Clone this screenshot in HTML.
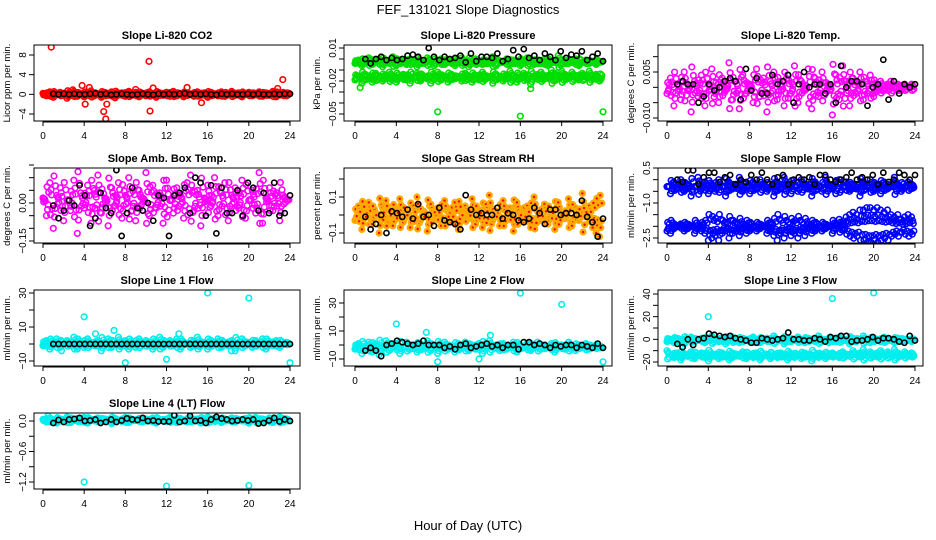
<!DOCTYPE html>
<html><head><meta charset="utf-8"><style>
body{margin:0;background:#fff}
svg{display:block;font-family:"Liberation Sans",sans-serif}
.pt{font-size:11px;font-weight:bold;text-anchor:middle}
.tk{font-size:10px}
.yl{font-size:9.5px;text-anchor:middle}
</style></head><body>
<svg id="chart" width="936" height="540" viewBox="0 0 936 540" xmlns="http://www.w3.org/2000/svg">
<rect width="936" height="540" fill="#fff"/>
<text x="468" y="14" font-size="13" text-anchor="middle">FEF_131021  Slope Diagnostics</text>
<text x="468" y="530" font-size="13" text-anchor="middle">Hour of Day (UTC)</text>
</svg>
<script>
const xTicks=[0,4,8,12,16,20,24];
const co2Cloud=[0.2,-0.3,0.5,-0.6,0.1,0.4,-0.2,-0.8,0.3,0.6,-0.4,0.2,-0.5,0.3,0.7,-0.3,0.1,-0.6,0.4,-0.2,0.5,-0.7,0.2,0.3,-0.4,0.6,-0.1,0.4,-0.5,0.2,-0.3,0.5,0.1,-0.6,0.3,-0.2,0.4,-0.4,0.6,-0.3,0.2,-0.5,0.3,0.1,-0.4,0.5,-0.2,0.3,-0.6,0.4,0.1,-0.3,0.5,-0.4,0.2,0.6,-0.2,0.3,-0.5,0.1,0.4,-0.3,0.2,0.5,-0.4,0.3,-0.2,0.6,-0.5,0.2,0.4,-0.3];
const co2Black=[0.1,0,0.1,0,0.1,0,0,0.1,0.2,0,0.1,-0.1,0,0.1,0,-0.1,0,0.1,0,-0.1,0.1,0,0.1,0,0.1,0.2,0,0.1,0,0.1,0,-0.1,0.1,0,0.1,0,0,0.1,0,0.1,0,0,0.1,0,0.1,0.1];
const co2OutX=[0.8,10.3,23.3,5.9,6.1,10.4,3.8,4.5,4.1,10.7,14,15.4,22.8,6.2,2.9,9];
const co2OutY=[9.6,6.7,3,-3.5,-5,-3.4,1.8,1.4,-2,1.3,1.4,-1.7,1.2,-2,0.9,1];
const presCloudA=[-0.004,-0.001,-0.006,-0.002,0.001,-0.005,-0.003,0,-0.007,-0.002,-0.004,0.002,-0.006,-0.001,-0.003,-0.005,0,-0.002,-0.007,-0.001,-0.004,0.001,-0.003,-0.006,-0.002,0,-0.005,-0.003,-0.001,-0.006,-0.002,0.001,-0.004,-0.007,-0.002,0,-0.003,-0.005,-0.001,-0.004,0.002,-0.006,-0.002,-0.003,0,-0.005,-0.001,-0.004,-0.006,-0.002,0.001,-0.003,-0.005,-0.001,-0.004,0,-0.006,-0.002,-0.003,0.003,-0.005,-0.001,-0.004,-0.002,0,-0.006,-0.003,-0.001,-0.004,-0.002,-0.005,-0.003];
const presCloudB=[-0.019,-0.016,-0.022,-0.014,-0.018,-0.021,-0.013,-0.017,-0.02,-0.015,-0.012,-0.018,-0.021,-0.016,-0.014,-0.019,-0.022,-0.017,-0.013,-0.02,-0.016,-0.018,-0.022,-0.015,-0.012,-0.019,-0.017,-0.021,-0.014,-0.018,-0.016,-0.02,-0.013,-0.017,-0.021,-0.015,-0.019,-0.012,-0.018,-0.016,-0.022,-0.014,-0.017,-0.02,-0.015,-0.011,-0.018,-0.021,-0.016,-0.013,-0.019,-0.023,-0.017,-0.014,-0.012,-0.018,-0.015,-0.01,-0.013,-0.016,-0.011,-0.014,-0.017,-0.012,-0.015,-0.019,-0.013,-0.016,-0.011,-0.018,-0.014,-0.02];
const presBlack=[0,-0.004,0,0.002,-0.001,0.001,-0.001,0,0.003,0.004,0.002,-0.001,0.01,0.002,-0.001,0.002,0,0.001,0.003,-0.003,0.005,-0.002,0.002,0.002,0.001,0.005,-0.002,0,0.008,0.002,0.009,0.001,0.003,-0.001,0.005,0.002,-0.001,0.007,0.001,0.004,0.003,0.007,-0.001,0.002,0.005,-0.002];
const presOutX=[8,16,24,0.5,17];const presOutY=[-0.048,-0.052,-0.048,-0.026,-0.027];
const tempCloud=[-0.002,0.003,-0.006,0.001,-0.004,0.005,-0.001,-0.008,0.002,-0.003,0.004,-0.006,0.001,0.006,-0.002,-0.005,0.003,-0.001,0.008,-0.004,0.002,-0.007,0.004,-0.002,0.001,-0.005,0.006,-0.003,0.003,-0.008,0.002,0.005,-0.004,0.001,-0.006,0.004,-0.002,0.007,-0.005,0.002,-0.001,0.006,-0.007,0.003,-0.003,0.005,-0.002,0.001,-0.009,0.004,-0.004,0.007,0.002,-0.006,0.003,-0.002,0.005,-0.004,0.002,0.004,-0.003,0.001,0.002,-0.001,0.001,0.002,0,0.001,-0.001,0.001,0,0.001];
const tempBlack=[0.001,0.002,0.001,0.001,-0.005,-0.003,0.001,-0.001,0,0.002,0.003,0.002,-0.004,0.006,-0.001,0.003,-0.002,-0.002,0.004,0.001,0.002,0.004,-0.005,0.001,0.005,0,0.001,0.001,-0.002,0.001,-0.005,0.007,0,0.002,0.002,0.001,-0.006,0,0.001,0.009,-0.004,0.002,-0.002,0.001,0,0.001];
const ambCloud=[0.02,-0.05,0.08,-0.1,0.03,0.06,-0.07,0.01,-0.03,0.09,-0.12,0.04,-0.02,0.07,-0.08,0.05,0.11,-0.04,0.02,-0.09,0.06,-0.01,0.08,-0.06,0.03,0.1,-0.03,-0.07,0.05,0.02,0.12,-0.05,0.07,-0.02,0.04,-0.08,0.09,0.01,-0.04,0.06,0.03,-0.06,0.08,0.11,-0.03,0.05,-0.09,0.02,0.07,-0.01,0.1,-0.05,0.04,0.08,-0.07,0.03,0.06,-0.02,0.09,-0.06,0.01,0.05,-0.04,0.12,-0.08,0.02,0.06,-0.03,0.04,-0.07,0.03,0.01];
const ambBlack=[-0.01,-0.06,-0.03,0.01,-0.01,0.07,0.03,-0.09,-0.06,0.04,-0.02,-0.04,0.13,-0.13,-0.04,0.06,-0.02,-0.03,0,-0.07,0.03,0.02,-0.13,0.03,0.04,0.06,-0.04,0.1,0.08,-0.05,0.07,-0.12,0.06,-0.04,-0.04,0.05,-0.05,0.08,0.06,-0.03,0.04,-0.04,0.08,-0.05,-0.04,0.03];
const rhCloud=[-0.03,0.05,-0.08,0.02,0.07,-0.05,0.01,-0.1,0.04,0.08,-0.02,-0.06,0.03,0.09,-0.04,0.01,-0.07,0.05,0.1,-0.03,0.02,-0.09,0.06,-0.01,0.04,-0.06,0.08,0.02,-0.04,0.07,-0.08,0.01,0.05,-0.02,0.09,-0.05,0.03,-0.07,0.06,0.11,-0.03,0.02,-0.06,0.08,-0.01,0.04,-0.09,0.07,0.01,-0.04,0.05,-0.07,0.1,0.02,-0.03,0.06,-0.05,0.03,-0.08,0.07,0.01,-0.02,0.09,-0.06,0.04,-0.03,0.12,-0.01,0.05,-0.07,-0.1,-0.12];
const rhBlack=[-0.01,-0.08,-0.05,0,-0.1,0.02,0.01,-0.01,0.03,-0.02,0.06,-0.01,0,-0.06,0.04,-0.03,-0.04,-0.05,-0.08,0.11,0.03,0,0.01,0,0,0.04,-0.02,0.01,0,-0.03,-0.04,-0.02,0.04,0.01,-0.05,0.03,0.03,0,0.01,0.01,0,0.08,-0.01,-0.04,-0.12,-0.02];
const flowCloudA=[-0.3,-0.6,-0.1,-0.4,0,-0.5,-0.2,-0.7,-0.3,0.1,-0.4,-0.1,-0.6,-0.2,-0.5,0,-0.3,-0.7,-0.1,-0.4,-0.2,0.1,-0.5,-0.3,-0.6,-0.1,-0.4,0,-0.2,-0.5,-0.3,-0.7,-0.1,-0.4,0.1,-0.2,-0.6,-0.3,-0.5,0,-0.2,-0.4,-0.7,-0.1,-0.3,-0.5,0.1,-0.2,-0.4,-0.6,0,-0.3,-0.1,-0.5,-0.2,-0.4,-0.7,-0.1,-0.3,0,-0.5,-0.2,-0.6,-0.1,-0.4,-0.3,0.1,-0.2,-0.5,-0.3,-0.1,-0.2];
const flowCloudB=[-2.2,-2.3,-2.1,-2.0,-1.9,-2.2,-2.1,-2.0,-2.3,-2.1,-2.2,-2.3,-2.6,-2.5,-2.4,-2.6,-2.3,-2.2,-2.5,-2.3,-2.2,-2.4,-2.1,-2.3,-2.2,-2.0,-2.2,-2.1,-2.0,-2.3,-2.2,-2.4,-2.6,-2.3,-2.5,-2.2,-2.4,-2.3,-2.5,-2.2,-2.4,-2.1,-2.3,-2.2,-2.0,-2.2,-2.1,-2.0,-2.3,-1.9,-1.7,-1.8,-1.6,-1.5,-1.4,-1.5,-1.3,-1.3,-1.2,-1.2,-1.3,-1.2,-1.3,-1.4,-1.3,-1.5,-1.6,-1.5,-1.7,-1.6,-1.5,-1.6];
const flowBlack=[0,-0.1,0.4,0.4,-0.2,0.1,0.3,0.3,-0.1,0.1,0.2,-0.2,0,-0.1,0.2,0,0.3,0,-0.2,0.1,0.2,-0.2,0,0.1,0,0.1,-0.2,0.2,0.2,0,-0.1,0,0.1,0.3,0,0.1,0,0.2,-0.2,0.3,-0.1,0,0.3,0.2,0,0.2];
const l1Cloud=[-1,2,-3,1,3,-2,0,2,-1,4,-3,1,-2,3,0,-1,2,-4,1,3,-2,0,4,-1,2,-3,1,-2,3,0,2,-1,-3,1,4,-2,0,2,-1,3,-3,1,0,-2,2,4,-1,1,-3,2,0,3,-2,1,-1,2,-4,0,3,-1,1,-2,2,0,3,-3,1,-1,2,-2,0,1];
const l1Black=[0,0,0,0,0,0,0,0,0,0,0,0,0,0,0,0,0,0,0,0,0,0,0,0,0,0,0,0,0,0,0,0,0,0,0,0,0,0,0,0,0,0,0,0,0,0];
const l1OutX=[4,16,20,8,12,24,1.8,6.9,18.3,5.1,13.2];const l1OutY=[16,30,27,-11,-9,-11,-4,8,-4,6,6];
const l2Cloud=[-3,1,-6,-1,2,-5,0,-7,-2,3,-4,-1,1,-6,-2,2,-3,0,-5,1,-2,3,-4,-1,-6,0,2,-3,-1,-5,1,-2,2,-4,0,-3,1,-6,-1,3,-2,0,-4,1,-3,-1,2,-5,0,-2,1,-4,-1,2,-3,0,-2,1,-5,-1,0,-3,2,-2,-4,0,-1,1,-3,-2,0,-1];
const l2Black=[-4,-2,-4,-8,0,1,3,2,1,0,1,3,0,0,0,-2,-1,-3,0,1,-2,-1,0,1,-1,0,-2,0,0,-3,2,2,0,1,0,-2,0,-1,0,0,-2,0,-1,-2,1,-2];
const l2OutX=[4,16,20,8,12,24,6.9,13.1];const l2OutY=[15,37,29,-12,-10,-12,9,7];
const l3CloudA=[-2,0,-3,1,-1,-4,0,2,-2,-1,1,-3,0,3,-1,-2,1,-4,0,2,-1,-3,1,0,-2,2,-1,-3,0,1,-2,3,-1,0,-4,1,-2,0,2,-1,-3,1,0,-2,3,-1,0,-3,1,-2,2,0,-1,-4,1,-2,0,3,-1,-3,1,0,-2,2,-1,0,-3,1,-2,0,-1,-2];
const l3CloudB=[-10,-14,-16,-12,-18,-13,-15,-11,-17,-14,-12,-16,-19,-13,-15,-17,-12,-14,-18,-16,-13,-15,-11,-17,-14,-16,-12,-18,-15,-13,-17,-14,-16,-12,-15,-18,-13,-16,-14,-17,-12,-15,-19,-14,-16,-13,-17,-15,-12,-14,-16,-11,-13,-15,-10,-14,-12,-9,-13,-11,-15,-12,-10,-14,-11,-13,-9,-12,-14,-11,-13,-12];
const l3Black=[-4,-7,0,-5,0,1,5,4,3,2,3,1,0,-1,-3,-3,1,0,-1,0,1,6,0,0,-1,-1,1,0,-2,2,1,3,3,-2,-1,-1,0,2,-1,1,1,0,-2,-3,3,-1];
const l3OutX=[4,16,20];const l3OutY=[20,36,41];
const l4Cloud=[0.03,-0.02,0.06,0.01,-0.04,0.04,0,0.08,-0.03,0.02,0.05,-0.01,0.07,-0.04,0.03,0,0.06,-0.02,0.04,0.01,-0.05,0.05,0.02,-0.01,0.07,-0.03,0.03,0.01,0.05,-0.02,0.04,0,0.06,-0.04,0.02,0.03,-0.01,0.07,0.01,-0.03,0.05,0.02,-0.02,0.06,0,0.04,-0.04,0.03,0.08,-0.01,0.05,0.02,-0.03,0.04,0.01,0.06,-0.02,0.03,0,0.05,-0.04,0.02,0.07,-0.01,0.04,0.01,0.06,-0.03,0.03,0.08,-0.02,0.04];
const l4Black=[-0.04,0.02,-0.02,0.03,0.04,0.06,0,0.01,0.03,-0.04,-0.02,0.03,-0.02,0.01,0.05,0.03,0.02,0.06,0,0.01,-0.01,-0.01,-0.01,0.11,-0.02,0,0.1,0,0.01,-0.04,0.03,0.08,0.05,0.03,0,0.01,0.03,0.01,0.03,-0.05,-0.04,0.01,0.06,-0.01,0.03,0];
const l4OutX=[4,12,20,0.5];const l4OutY=[-1.2,-1.28,-1.27,0.1];

const cols=[{l:34,r:300,x0:43,x24:290},{l:344,r:612,x0:355,x24:603},{l:658,r:923,x0:667,x24:915}];
const rows=[{t:45,b:121},{t:168,b:243},{t:290,b:366},{t:413,b:489}];
const panels=[
 {name:'co2',title:'Slope Li-820 CO2',yl:'Licor ppm per min.',c:0,r:0,v1:8,p1:55,v2:-4,p2:114,ticks:[-4,0,4,8],lab:[-4,0,4,8],labels:['-4','0','4','8'],col:'#f00',clouds:[co2Cloud],black:co2Black,ox:co2OutX,oy:co2OutY},
 {name:'pressure',title:'Slope Li-820 Pressure',yl:'kPa per min.',c:1,r:0,v1:0.01,p1:48,v2:-0.05,p2:114,ticks:[0.01,0,-0.01,-0.02,-0.03,-0.04,-0.05],lab:[0.01,-0.02,-0.05],labels:['0.01','-0.02','-0.05'],col:'#0d0',clouds:[presCloudA,presCloudB],black:presBlack,ox:presOutX,oy:presOutY},
 {name:'li820-temp',title:'Slope Li-820 Temp.',yl:'degrees C per min.',c:2,r:0,v1:0.005,p1:72,v2:-0.01,p2:118,ticks:[0.01,0.005,0,-0.005,-0.01],lab:[0.005,-0.01],labels:['0.005','-0.010'],col:'#f0f',clouds:[tempCloud],black:tempBlack,ox:[],oy:[]},
 {name:'amb-box-temp',title:'Slope Amb. Box Temp.',yl:'degrees C per min.',c:0,r:1,v1:0,p1:203,v2:-0.15,p2:241,ticks:[0.15,0.1,0.05,0,-0.05,-0.1,-0.15],lab:[0,-0.15],labels:['0.00','-0.15'],col:'#f0f',clouds:[ambCloud],black:ambBlack,ox:[],oy:[]},
 {name:'gas-stream-rh',title:'Slope Gas Stream RH',yl:'percent per min.',c:1,r:1,v1:0.1,p1:197,v2:-0.1,p2:233,ticks:[0.2,0.1,0,-0.1],lab:[0.1,-0.1],labels:['0.1','-0.1'],col:'#fa0',inner:'#f00',clouds:[rhCloud],black:rhBlack,ox:[],oy:[]},
 {name:'sample-flow',title:'Slope Sample Flow',yl:'ml/min per min.',c:2,r:1,v1:0.5,p1:168,v2:-2.5,p2:238,ticks:[0.5,0,-0.5,-1,-1.5,-2,-2.5],lab:[0.5,-1,-2.5],labels:['0.5','-1.0','-2.5'],col:'#00f',clouds:[flowCloudA,flowCloudB],black:flowBlack,ox:[],oy:[]},
 {name:'line1-flow',title:'Slope Line 1 Flow',yl:'ml/min per min.',c:0,r:2,v1:30,p1:293,v2:-10,p2:361,ticks:[30,20,10,0,-10],lab:[30,10,-10],labels:['30','10','-10'],col:'#0ee',clouds:[l1Cloud],black:l1Black,ox:l1OutX,oy:l1OutY},
 {name:'line2-flow',title:'Slope Line 2 Flow',yl:'ml/min per min.',c:1,r:2,v1:30,p1:303,v2:-10,p2:359,ticks:[30,20,10,0,-10],lab:[30,10,-10],labels:['30','10','-10'],col:'#0ee',clouds:[l2Cloud],black:l2Black,ox:l2OutX,oy:l2OutY},
 {name:'line3-flow',title:'Slope Line 3 Flow',yl:'ml/min per min.',c:2,r:2,v1:40,p1:294,v2:-20,p2:362,ticks:[40,30,20,10,0,-10,-20],lab:[40,20,0,-20],labels:['40','20','0','-20'],col:'#0ee',clouds:[l3CloudA,l3CloudB],black:l3Black,ox:l3OutX,oy:l3OutY},
 {name:'line4-flow',title:'Slope Line 4 (LT) Flow',yl:'ml/min per min.',c:0,r:3,v1:0,p1:421,v2:-1.2,p2:482,ticks:[0,-0.3,-0.6,-0.9,-1.2],lab:[0,-0.6,-1.2],labels:['0.0','-0.6','-1.2'],col:'#0ee',clouds:[l4Cloud],black:l4Black,ox:l4OutX,oy:l4OutY}
];
const jitter=[[0,1],[0.33,0.6],[0.66,-0.5],[0.5,0.3],[0.2,-0.85]];
const svg=document.getElementById('chart');const NS='http://www.w3.org/2000/svg';
function mk(tag,attrs,parent){const e=document.createElementNS(NS,tag);for(const k in attrs)e.setAttribute(k,attrs[k]);(parent||svg).appendChild(e);return e;}
function fmt(v){return String(v).replace('-','\u2212');}
panels.forEach(p=>{
 const C=cols[p.c],R=rows[p.r];
 const g=mk('g',{});
 
 
 const xs=h=>C.x0+(C.x24-C.x0)*h/24;
 const ys=v=>p.p1+(v-p.v1)*(p.p2-p.p1)/(p.v2-p.v1);
 const clip='clip-'+p.name;
 const cp=mk('clipPath',{id:clip},g);mk('rect',{x:C.l,y:R.t,width:C.r-C.l,height:R.b-R.t},cp);
 const t=mk('text',{x:(C.l+C.r)/2,y:R.t-6,class:'pt'},g);t.textContent=p.title;
 
 
 const yl=mk('text',{x:0,y:0,class:'yl',transform:`translate(${C.l-24},${(R.t+R.b)/2}) rotate(-90)`},g);yl.textContent=p.yl;
 
 
 const pts=mk('g',{'clip-path':`url(#${clip})`},g);
 p.clouds.forEach(arr=>{
  const mean=arr.reduce((a,b)=>a+b,0)/arr.length;
  arr.forEach((v,i)=>{
  jitter.forEach(j=>{
   const h=(i+j[0])*24/arr.length;
   const vv=mean+(v-mean)*j[1];
   const c=mk('circle',{cx:xs(h),cy:ys(vv),r:2.8,fill:p.inner?p.col:'none',stroke:p.col,'stroke-width':1.6},pts);
   
   
   if(p.inner)mk('circle',{cx:xs(h),cy:ys(vv),r:1.2,fill:p.inner},pts);
  });
 });});
 p.ox.forEach((h,i)=>{const c=mk('circle',{cx:xs(h),cy:ys(p.oy[i]),r:2.8,fill:'none',stroke:p.col,'stroke-width':1.6},pts);
  
  });
 p.black.forEach((v,i)=>{const h=1+i*23/(p.black.length-1);
  const c=mk('circle',{cx:xs(h),cy:ys(v),r:2.6,fill:'none',stroke:'#000','stroke-width':1.6},pts);
  
  });
 const box=mk('rect',{x:C.l,y:R.t,width:C.r-C.l,height:R.b-R.t,fill:'none',stroke:'#000','stroke-width':1},g);
 
 
 mk('line',{x1:xs(0),x2:xs(24),y1:R.b+1,y2:R.b+1,stroke:'#000'},g);
 xTicks.forEach(h=>{mk('line',{x1:xs(h),x2:xs(h),y1:R.b,y2:R.b+5,stroke:'#000'},g);
  const tl=mk('text',{x:xs(h),y:R.b+18,class:'tk','text-anchor':'middle'},g);tl.textContent=h;
  
  });
 p.ticks.forEach(v=>{mk('line',{x1:C.l-5,x2:C.l,y1:ys(v),y2:ys(v),stroke:'#000'},g);});
 p.lab.forEach((v,i)=>{const tl=mk('text',{x:0,y:0,class:'tk','text-anchor':'middle',transform:`translate(${C.l-8},${ys(v)}) rotate(-90)`},g);
  tl.textContent=fmt(p.labels[i]);
  
  });
});
</script>
</body></html>
